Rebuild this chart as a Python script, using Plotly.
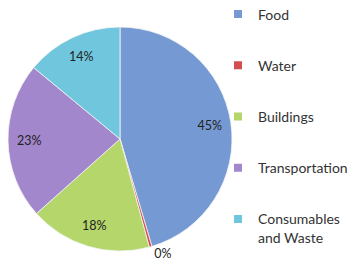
import plotly.graph_objects as go

categories = ["Food", "Water", "Buildings", "Transportation", "Consumables and Waste"]
legend_labels = ["Food", "Water", "Buildings", "Transportation", "Consumables<br>and Waste"]
values = [45.4, 0.4, 17.6, 22.6, 14.0]
colors = ["#7599d2", "#d24f4f", "#b4d66a", "#a287cc", "#70c7dd"]
label_positions = ["inside", "outside", "inside", "inside", "inside"]

W, H = 359, 267
# page body adds ~8px offset; design in figure coords
cx, cy, r = 112, 131, 112
dom = dict(x=[max(0, (cx - r) / W), (cx + r) / W], y=[(H - cy - r) / H, (H - cy + r) / H])
FONT = "Lato"

fig = go.Figure()
fig.add_trace(go.Pie(
    labels=categories, values=values, sort=False, direction="clockwise", rotation=0,
    marker=dict(colors=colors, line=dict(color="#f4f4f4", width=0.8)),
    texttemplate=["", "%{percent:.0%}", "", "", ""],
    textposition=label_positions,
    textfont=dict(family=FONT, size=12.5, color="#222222"),
    showlegend=False, domain=dom, hoverinfo="label+percent",
))
fig.add_trace(go.Pie(
    labels=categories, values=values, sort=False, direction="clockwise", rotation=0,
    hole=0.62,
    marker=dict(colors=["rgba(0,0,0,0)"] * len(values), line=dict(width=0)),
    texttemplate=["%{percent:.0%}", "", "%{percent:.0%}", "%{percent:.0%}", "%{percent:.0%}"],
    textposition="inside", insidetextorientation="horizontal",
    textfont=dict(family=FONT, size=12.5, color="#222222"),
    showlegend=False, domain=dom, hoverinfo="skip",
))

for name, col in zip(legend_labels, colors):
    fig.add_trace(go.Scatter(
        x=[None], y=[None], mode="markers", name=name,
        marker=dict(symbol="square", size=8, color=col),
        legendgroup=name, showlegend=True,
    ))

fig.update_layout(
    width=W, height=H,
    margin=dict(l=0, r=0, t=0, b=0, autoexpand=False),
    paper_bgcolor="white", plot_bgcolor="white",
    xaxis=dict(visible=False), yaxis=dict(visible=False),
    legend=dict(
        x=210 / W, y=0.0805, xanchor="left", yanchor="bottom",
        font=dict(family=FONT, size=14, color="#333333"),
        tracegroupgap=30, valign="top",
        bgcolor="rgba(0,0,0,0)",
    ),
)

fig.write_html("out.html")
